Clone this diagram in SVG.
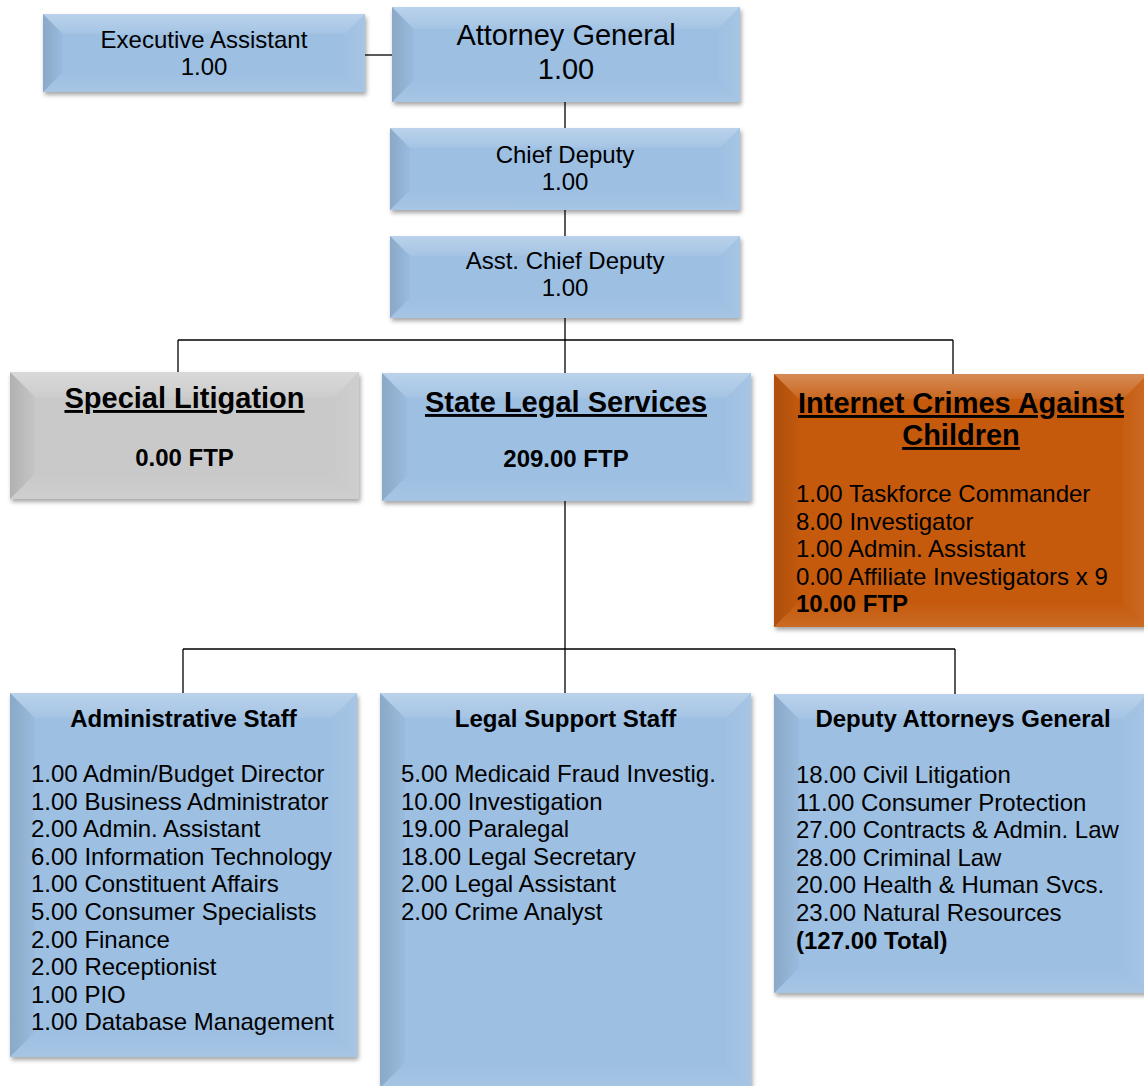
<svg xmlns="http://www.w3.org/2000/svg" width="1144" height="1086" viewBox="0 0 1144 1086">
<defs>
<filter id="sh" x="-5%" y="-5%" width="115%" height="115%">
<feDropShadow dx="1.5" dy="3" stdDeviation="2.2" flood-color="#000" flood-opacity="0.35"/>
</filter>
<linearGradient id="gl" x1="0" y1="0" x2="1" y2="0">
<stop offset="0" stop-color="#000" stop-opacity="0.12"/>
<stop offset="1" stop-color="#000" stop-opacity="0.02"/>
</linearGradient>
<linearGradient id="gt" x1="0" y1="0" x2="0" y2="1">
<stop offset="0" stop-color="#fff" stop-opacity="0.3"/>
<stop offset="1" stop-color="#fff" stop-opacity="0.08"/>
</linearGradient>
<linearGradient id="gr" x1="1" y1="0" x2="0" y2="0">
<stop offset="0" stop-color="#fff" stop-opacity="0.1"/>
<stop offset="1" stop-color="#fff" stop-opacity="0.02"/>
</linearGradient>
<linearGradient id="gb" x1="0" y1="1" x2="0" y2="0">
<stop offset="0" stop-color="#fff" stop-opacity="0.1"/>
<stop offset="1" stop-color="#fff" stop-opacity="0"/>
</linearGradient>
<style>
.blue{fill:#9dbfe2}
.gray{fill:#c9c9c9}
.orange{fill:#c55a11}
.bt{fill:url(#gt)}
.bl{fill:url(#gl)}
.br{fill:url(#gr)}
.bb{fill:url(#gb)}
.box{filter:url(#sh)}
text{font-family:"Liberation Sans",Arial,sans-serif;fill:#000}
.c{text-anchor:middle}
.t24{font-size:24px}
.t29{font-size:29px}
.b{font-weight:bold}
.u{text-decoration:underline;text-decoration-thickness:3px}
.conn line{stroke:#000;stroke-width:1.3}
</style>
</defs>
<rect width="1144" height="1086" fill="#fff"/>

<g class="conn" id="connectors">
<line x1="365" y1="55" x2="392" y2="55"/>
<line x1="565" y1="102" x2="565" y2="128"/>
<line x1="565" y1="210" x2="565" y2="236"/>
<line x1="565" y1="318" x2="565" y2="340"/>
<line x1="178" y1="340" x2="953" y2="340"/>
<line x1="178" y1="340" x2="178" y2="372"/>
<line x1="565" y1="340" x2="565" y2="373"/>
<line x1="953" y1="340" x2="953" y2="374"/>
<line x1="565" y1="501" x2="565" y2="649"/>
<line x1="183" y1="649" x2="955" y2="649"/>
<line x1="183" y1="649" x2="183" y2="693"/>
<line x1="565" y1="649" x2="565" y2="693"/>
<line x1="955" y1="649" x2="955" y2="694"/>
</g>

<g id="executive-assistant">
<rect class="box blue" x="43" y="14" width="322" height="78"/>
<polygon class="bt" points="43,14 365,14 345,34 63,34"/>
<polygon class="bl" points="43,14 63,34 63,72 43,92"/>
<polygon class="br" points="365,14 365,92 345,72 345,34"/>
<polygon class="bb" points="43,92 63,72 345,72 365,92"/>
<text class="c t24" x="204" y="48">Executive Assistant</text>
<text class="c t24" x="204" y="75">1.00</text>
</g>

<g id="attorney-general">
<rect class="box blue" x="392" y="7" width="348" height="95"/>
<polygon class="bt" points="392,7 740,7 718,29 414,29"/>
<polygon class="bl" points="392,7 414,29 414,80 392,102"/>
<polygon class="br" points="740,7 740,102 718,80 718,29"/>
<polygon class="bb" points="392,102 414,80 718,80 740,102"/>
<text class="c t29" x="566" y="45">Attorney General</text>
<text class="c t29" x="566" y="79">1.00</text>
</g>

<g id="chief-deputy">
<rect class="box blue" x="390" y="128" width="350" height="82"/>
<polygon class="bt" points="390,128 740,128 720,148 410,148"/>
<polygon class="bl" points="390,128 410,148 410,190 390,210"/>
<polygon class="br" points="740,128 740,210 720,190 720,148"/>
<polygon class="bb" points="390,210 410,190 720,190 740,210"/>
<text class="c t24" x="565" y="163">Chief Deputy</text>
<text class="c t24" x="565" y="190">1.00</text>
</g>

<g id="asst-chief-deputy">
<rect class="box blue" x="390" y="236" width="350" height="82"/>
<polygon class="bt" points="390,236 740,236 720,256 410,256"/>
<polygon class="bl" points="390,236 410,256 410,298 390,318"/>
<polygon class="br" points="740,236 740,318 720,298 720,256"/>
<polygon class="bb" points="390,318 410,298 720,298 740,318"/>
<text class="c t24" x="565" y="269">Asst. Chief Deputy</text>
<text class="c t24" x="565" y="296">1.00</text>
</g>

<g id="special-litigation">
<rect class="box gray" x="10" y="372" width="349" height="127"/>
<polygon class="bt" points="10,372 359,372 334,397 35,397"/>
<polygon class="bl" points="10,372 35,397 35,474 10,499"/>
<polygon class="br" points="359,372 359,499 334,474 334,397"/>
<polygon class="bb" points="10,499 35,474 334,474 359,499"/>
<text class="c t29 b u" x="184.5" y="408">Special Litigation</text>
<text class="c t24 b" x="184.5" y="466">0.00 FTP</text>
</g>

<g id="state-legal-services">
<rect class="box blue" x="382" y="373" width="369" height="128"/>
<polygon class="bt" points="382,373 751,373 726,398 407,398"/>
<polygon class="bl" points="382,373 407,398 407,476 382,501"/>
<polygon class="br" points="751,373 751,501 726,476 726,398"/>
<polygon class="bb" points="382,501 407,476 726,476 751,501"/>
<text class="c t29 b u" x="566" y="412">State Legal Services</text>
<text class="c t24 b" x="566" y="467">209.00 FTP</text>
</g>

<g id="icac">
<rect class="box orange" x="774" y="374" width="374" height="253"/>
<polygon class="bt" points="774,374 1148,374 1123,399 799,399"/>
<polygon class="bl" points="774,374 799,399 799,602 774,627"/>
<polygon class="br" points="1148,374 1148,627 1123,602 1123,399"/>
<polygon class="bb" points="774,627 799,602 1123,602 1148,627"/>
<text class="c t29 b u" x="961" y="413">Internet Crimes Against</text>
<text class="c t29 b u" x="961" y="445">Children</text>
<text class="t24" x="796" y="502">1.00 Taskforce Commander</text>
<text class="t24" x="796" y="529.5">8.00 Investigator</text>
<text class="t24" x="796" y="557">1.00 Admin. Assistant</text>
<text class="t24" x="796" y="584.5">0.00 Affiliate Investigators x 9</text>
<text class="t24 b" x="796" y="612">10.00 FTP</text>
</g>

<g id="administrative-staff">
<rect class="box blue" x="10" y="693" width="347" height="364"/>
<polygon class="bt" points="10,693 357,693 332,718 35,718"/>
<polygon class="bl" points="10,693 35,718 35,1032 10,1057"/>
<polygon class="br" points="357,693 357,1057 332,1032 332,718"/>
<polygon class="bb" points="10,1057 35,1032 332,1032 357,1057"/>
<text class="c t24 b" x="183.5" y="727">Administrative Staff</text>
<text class="t24" x="31" y="782">1.00 Admin/Budget Director</text>
<text class="t24" x="31" y="809.6">1.00 Business Administrator</text>
<text class="t24" x="31" y="837.2">2.00 Admin. Assistant</text>
<text class="t24" x="31" y="864.8">6.00 Information Technology</text>
<text class="t24" x="31" y="892.4">1.00 Constituent Affairs</text>
<text class="t24" x="31" y="920">5.00 Consumer Specialists</text>
<text class="t24" x="31" y="947.6">2.00 Finance</text>
<text class="t24" x="31" y="975.2">2.00 Receptionist</text>
<text class="t24" x="31" y="1002.8">1.00 PIO</text>
<text class="t24" x="31" y="1030.4">1.00 Database Management</text>
</g>

<g id="legal-support-staff">
<rect class="box blue" x="380" y="693" width="371" height="395"/>
<polygon class="bt" points="380,693 751,693 726,718 405,718"/>
<polygon class="bl" points="380,693 405,718 405,1063 380,1088"/>
<polygon class="br" points="751,693 751,1088 726,1063 726,718"/>
<polygon class="bb" points="380,1088 405,1063 726,1063 751,1088"/>
<text class="c t24 b" x="565.5" y="727">Legal Support Staff</text>
<text class="t24" x="401" y="782">5.00 Medicaid Fraud Investig.</text>
<text class="t24" x="401" y="809.6">10.00 Investigation</text>
<text class="t24" x="401" y="837.2">19.00 Paralegal</text>
<text class="t24" x="401" y="864.8">18.00 Legal Secretary</text>
<text class="t24" x="401" y="892.4">2.00 Legal Assistant</text>
<text class="t24" x="401" y="920">2.00 Crime Analyst</text>
</g>

<g id="deputy-attorneys-general">
<rect class="box blue" x="774" y="694" width="374" height="299"/>
<polygon class="bt" points="774,694 1148,694 1123,719 799,719"/>
<polygon class="bl" points="774,694 799,719 799,968 774,993"/>
<polygon class="br" points="1148,694 1148,993 1123,968 1123,719"/>
<polygon class="bb" points="774,993 799,968 1123,968 1148,993"/>
<text class="c t24 b" x="963" y="727">Deputy Attorneys General</text>
<text class="t24" x="796" y="783">18.00 Civil Litigation</text>
<text class="t24" x="796" y="810.6">11.00 Consumer Protection</text>
<text class="t24" x="796" y="838.2">27.00 Contracts &amp; Admin. Law</text>
<text class="t24" x="796" y="865.8">28.00 Criminal Law</text>
<text class="t24" x="796" y="893.4">20.00 Health &amp; Human Svcs.</text>
<text class="t24" x="796" y="921">23.00 Natural Resources</text>
<text class="t24 b" x="796" y="948.6">(127.00 Total)</text>
</g>
</svg>
